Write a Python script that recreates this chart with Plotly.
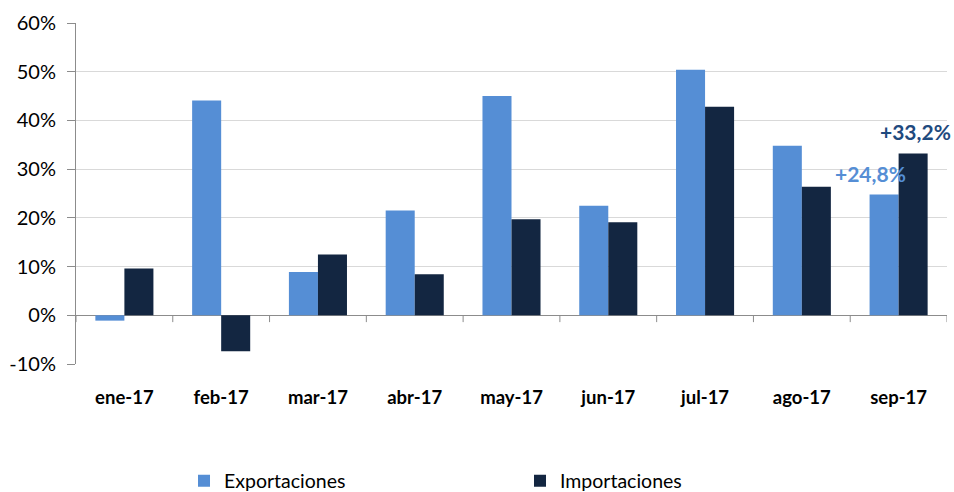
import plotly.graph_objects as go

categories = ["ene-17", "feb-17", "mar-17", "abr-17", "may-17", "jun-17", "jul-17", "ago-17", "sep-17"]
exportaciones = [-1.1, 44.1, 8.9, 21.5, 45.0, 22.5, 50.4, 34.8, 24.8]
importaciones = [9.6, -7.4, 12.5, 8.4, 19.7, 19.1, 42.8, 26.4, 33.2]
y_ticks = [-10, 0, 10, 20, 30, 40, 50, 60]
y_tick_labels = [f"{v}%" for v in y_ticks]

C_EXP = "#558ED5"
C_IMP = "#132641"
C_IMP_LABEL = "#1F4A7E"
FONT = "Lato"

fig = go.Figure()
fig.add_trace(go.Bar(x=categories, y=exportaciones, name="Exportaciones",
                     marker=dict(color=C_EXP, line=dict(width=0))))
fig.add_trace(go.Bar(x=categories, y=importaciones, name="Importaciones",
                     marker=dict(color=C_IMP, line=dict(width=0))))

def fmt(v):
    return ("+" if v >= 0 else "") + f"{v:.1f}".replace(".", ",") + "%"

fig.add_annotation(x=categories[-1], y=exportaciones[-1], xref="x", yref="y",
                   text=fmt(exportaciones[-1]), showarrow=False,
                   xshift=-28, yshift=21,
                   font=dict(family=FONT, size=21, color=C_EXP, weight="bold"))
fig.add_annotation(x=categories[-1], y=importaciones[-1], xref="x", yref="y",
                   text=fmt(importaciones[-1]), showarrow=False,
                   xshift=17, yshift=22,
                   font=dict(family=FONT, size=21, color=C_IMP_LABEL, weight="bold"))

# category boundary tick marks on the zero line
n = len(categories)
for i in range(n + 1):
    fig.add_shape(type="line", xref="x", yref="y",
                  x0=i - 0.5, x1=i - 0.5, y0=0, y1=-1.4,
                  line=dict(color="#8C8C8C", width=1))

fig.update_layout(
    width=954, height=492,
    margin=dict(l=76, r=7, t=23, b=128, autoexpand=False),
    plot_bgcolor="white", paper_bgcolor="white",
    barmode="group", bargap=0.40, bargroupgap=0,
    font=dict(family=FONT, color="#000000"),
    showlegend=True,
    legend=dict(orientation="h", x=0.124, y=-0.343, xanchor="left", yanchor="middle",
                font=dict(family=FONT, size=19.5, color="#000000"),
                entrywidth=291, entrywidthmode="pixels",
                itemsizing="constant", bgcolor="rgba(0,0,0,0)"),
)
fig.update_xaxes(
    range=[-0.5, n - 0.5], autorange=False,
    showline=False, showgrid=False, zeroline=False,
    ticks="outside", ticklen=17, tickcolor="rgba(0,0,0,0)",
    tickfont=dict(family=FONT, size=18.5, color="#000000", weight="bold"),
)
fig.update_yaxes(
    range=[-10, 60], tickvals=y_ticks, ticktext=y_tick_labels,
    showgrid=True, gridcolor="#D9D9D9", gridwidth=1,
    zeroline=True, zerolinecolor="#8C8C8C", zerolinewidth=1,
    showline=True, linecolor="#8C8C8C", linewidth=1,
    ticks="outside", ticklen=8, tickcolor="#8C8C8C",
    ticklabelstandoff=7,
    tickfont=dict(family=FONT, size=20, color="#000000"),
)

fig.write_html(
    "out.html",
    config={"displayModeBar": False},
    post_script="document.body.style.margin='0';document.body.style.overflow='hidden';",
)
